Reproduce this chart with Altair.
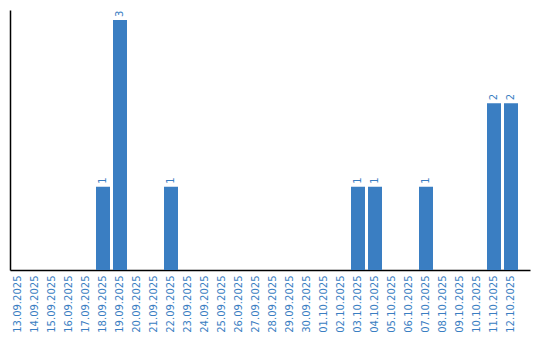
import altair as alt
import pandas as pd

dates = ["13.09.2025", "14.09.2025", "15.09.2025", "16.09.2025", "17.09.2025",
         "18.09.2025", "19.09.2025", "20.09.2025", "21.09.2025", "22.09.2025",
         "23.09.2025", "24.09.2025", "25.09.2025", "26.09.2025", "27.09.2025",
         "28.09.2025", "29.09.2025", "30.09.2025", "01.10.2025", "02.10.2025",
         "03.10.2025", "04.10.2025", "05.10.2025", "06.10.2025", "07.10.2025",
         "08.10.2025", "09.10.2025", "10.10.2025", "11.10.2025", "12.10.2025"]
counts = [0, 0, 0, 0, 0, 1, 3, 0, 0, 1,
          0, 0, 0, 0, 0, 0, 0, 0, 0, 0,
          1, 1, 0, 0, 1, 0, 0, 0, 2, 2]

df = pd.DataFrame({"date": dates, "count": counts})
color = "#3a7ec2"

x = alt.X("date:N", sort=dates, title=None,
          scale=alt.Scale(paddingInner=3 / 17, paddingOuter=13 / 34, align=1 / 13),
          axis=alt.Axis(labelAngle=270, labelAlign="right", labelBaseline="middle",
                        labelColor=color, labelFont="DejaVu Sans", labelFontSize=10,
                        ticks=False, labelPadding=5, domainColor="black", domainWidth=1.5))
y = alt.Y("count:Q", title=None, scale=alt.Scale(domain=[0, 3.12], nice=False),
          axis=alt.Axis(labels=False, ticks=False, grid=False, domainColor="black",
                        domainWidth=1.5))

bars = alt.Chart(df).mark_bar(color=color).encode(x=x, y=y)
text = alt.Chart(df).transform_filter("datum.count > 0").mark_text(
    angle=270, align="left", baseline="middle", dx=3, color=color,
    font="DejaVu Sans", fontSize=10).encode(x=x, y=y, text="count:Q")

chart = (bars + text).properties(
    width=520, height=260,
    autosize=alt.AutoSizeParams(type="none"),
    padding={"left": 10, "top": 10, "right": 10, "bottom": 70},
).configure_view(stroke=None)

chart.save("out.html", embed_options={"renderer": "svg", "actions": False})
